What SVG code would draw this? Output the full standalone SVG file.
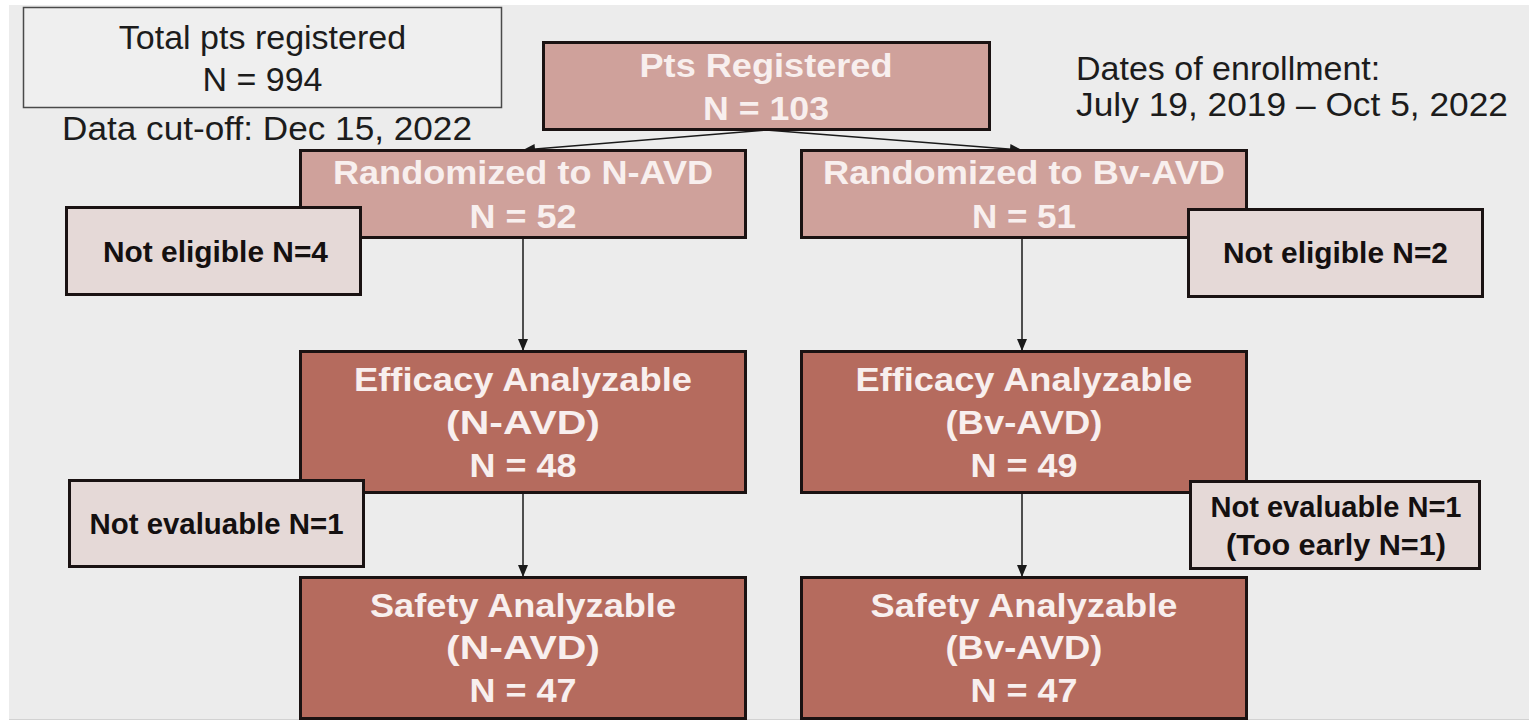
<svg xmlns="http://www.w3.org/2000/svg" width="1529" height="722" viewBox="0 0 1529 722">
  <style>
    .reg { font-family: "Liberation Sans", Arial, sans-serif; font-size: 34px; fill: #1c1c1c; }
    .wt { font-family: "Liberation Sans", Arial, sans-serif; font-weight: bold; font-size: 33px; fill: #f8efee; text-anchor: middle; }
    .bt { font-family: "Liberation Sans", Arial, sans-serif; font-weight: bold; font-size: 29px; fill: #141010; text-anchor: middle; }
    .pink { fill: #cfa19b; stroke: #1a1212; stroke-width: 3; }
    .dark { fill: #b56b5e; stroke: #1a1212; stroke-width: 3; }
    .light { fill: #e5d9d7; stroke: #1a1212; stroke-width: 3; }
    .conn { stroke: #1a1a1a; stroke-width: 1.5; fill: none; marker-end: url(#arr); }
  </style>
  <defs>
    <marker id="arr" viewBox="0 0 12 10" refX="12" refY="5" markerWidth="12" markerHeight="10" markerUnits="userSpaceOnUse" orient="auto">
      <path d="M0,0 L12,5 L0,10 z" fill="#1a1a1a"/>
    </marker>
  </defs>
  <rect x="0" y="0" width="1529" height="722" fill="#ffffff"/>
  <rect x="9" y="5" width="1520" height="714" fill="#ececec"/>
  <line x1="9" y1="719.5" x2="1529" y2="719.5" stroke="#d2d2d2" stroke-width="1"/>

  <g id="total-box">
    <rect x="23.5" y="7.5" width="478" height="100" fill="#efefef" stroke="#4a4a4a" stroke-width="1.5"/>
    <text class="reg" x="262.5" y="49" text-anchor="middle">Total pts registered</text>
    <text class="reg" x="262.5" y="91" text-anchor="middle">N = 994</text>
  </g>
  <g id="cutoff-note">
    <text class="reg" x="267" y="140" text-anchor="middle" textLength="410" lengthAdjust="spacingAndGlyphs">Data cut-off: Dec 15, 2022</text>
  </g>
  <g id="dates-note">
    <text class="reg" x="1076" y="80">Dates of enrollment:</text>
    <text class="reg" x="1076" y="116" textLength="432" lengthAdjust="spacingAndGlyphs">July 19, 2019 – Oct 5, 2022</text>
  </g>

  <g id="connectors">
    <line class="conn" x1="766" y1="130" x2="523" y2="150"/>
    <line class="conn" x1="766" y1="130" x2="1022" y2="150"/>
    <line class="conn" x1="523" y1="238" x2="523" y2="351"/>
    <line class="conn" x1="1022" y1="238" x2="1022" y2="351"/>
    <line class="conn" x1="523" y1="493" x2="523" y2="577"/>
    <line class="conn" x1="1022" y1="493" x2="1022" y2="577"/>
  </g>

  <g id="pts-registered">
    <rect class="pink" x="543.5" y="42.5" width="446" height="87"/>
    <text class="wt" x="766" y="77" textLength="253" lengthAdjust="spacingAndGlyphs">Pts Registered</text>
    <text class="wt" x="766" y="120" textLength="126" lengthAdjust="spacingAndGlyphs">N = 103</text>
  </g>
  <g id="rand-navd">
    <rect class="pink" x="300.5" y="150.5" width="445" height="87"/>
    <text class="wt" x="523" y="184" textLength="380" lengthAdjust="spacingAndGlyphs">Randomized to N-AVD</text>
    <text class="wt" x="523" y="228" textLength="107" lengthAdjust="spacingAndGlyphs">N = 52</text>
  </g>
  <g id="rand-bvavd">
    <rect class="pink" x="801.5" y="150.5" width="445" height="87"/>
    <text class="wt" x="1024" y="184" textLength="402" lengthAdjust="spacingAndGlyphs">Randomized to Bv-AVD</text>
    <text class="wt" x="1024" y="228" textLength="104" lengthAdjust="spacingAndGlyphs">N = 51</text>
  </g>
  <g id="not-eligible-4">
    <rect class="light" x="66.5" y="207.5" width="294" height="87"/>
    <text class="bt" x="215.5" y="262" textLength="225" lengthAdjust="spacingAndGlyphs">Not eligible N=4</text>
  </g>
  <g id="not-eligible-2">
    <rect class="light" x="1188.5" y="209.5" width="294" height="87"/>
    <text class="bt" x="1335.5" y="263" textLength="225" lengthAdjust="spacingAndGlyphs">Not eligible N=2</text>
  </g>
  <g id="eff-navd">
    <rect class="dark" x="300.5" y="351.5" width="445" height="141"/>
    <text class="wt" x="523" y="391" textLength="338" lengthAdjust="spacingAndGlyphs">Efficacy Analyzable</text>
    <text class="wt" x="523" y="434" textLength="154" lengthAdjust="spacingAndGlyphs">(N-AVD)</text>
    <text class="wt" x="523" y="477" textLength="107" lengthAdjust="spacingAndGlyphs">N = 48</text>
  </g>
  <g id="eff-bvavd">
    <rect class="dark" x="801.5" y="351.5" width="445" height="141"/>
    <text class="wt" x="1024" y="391" textLength="337" lengthAdjust="spacingAndGlyphs">Efficacy Analyzable</text>
    <text class="wt" x="1024" y="434" textLength="157" lengthAdjust="spacingAndGlyphs">(Bv-AVD)</text>
    <text class="wt" x="1024" y="477" textLength="107" lengthAdjust="spacingAndGlyphs">N = 49</text>
  </g>
  <g id="not-eval-left">
    <rect class="light" x="69.5" y="480.5" width="294" height="86"/>
    <text class="bt" x="216.5" y="534" textLength="254" lengthAdjust="spacingAndGlyphs">Not evaluable N=1</text>
  </g>
  <g id="not-eval-right">
    <rect class="light" x="1190.5" y="481.5" width="289" height="87"/>
    <text class="bt" x="1336" y="517" textLength="251" lengthAdjust="spacingAndGlyphs">Not evaluable N=1</text>
    <text class="bt" x="1336" y="555" textLength="220" lengthAdjust="spacingAndGlyphs">(Too early N=1)</text>
  </g>
  <g id="safety-navd">
    <rect class="dark" x="300.5" y="577.5" width="445" height="141"/>
    <text class="wt" x="523" y="617" textLength="306" lengthAdjust="spacingAndGlyphs">Safety Analyzable</text>
    <text class="wt" x="523" y="659" textLength="154" lengthAdjust="spacingAndGlyphs">(N-AVD)</text>
    <text class="wt" x="523" y="702" textLength="107" lengthAdjust="spacingAndGlyphs">N = 47</text>
  </g>
  <g id="safety-bvavd">
    <rect class="dark" x="801.5" y="577.5" width="445" height="141"/>
    <text class="wt" x="1024" y="617" textLength="307" lengthAdjust="spacingAndGlyphs">Safety Analyzable</text>
    <text class="wt" x="1024" y="659" textLength="157" lengthAdjust="spacingAndGlyphs">(Bv-AVD)</text>
    <text class="wt" x="1024" y="702" textLength="107" lengthAdjust="spacingAndGlyphs">N = 47</text>
  </g>
</svg>
